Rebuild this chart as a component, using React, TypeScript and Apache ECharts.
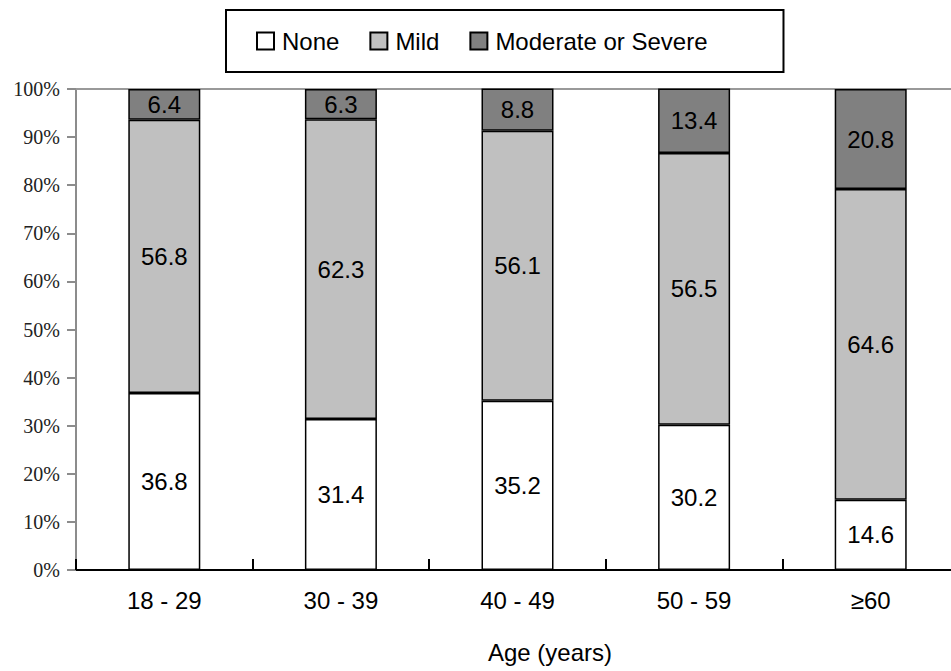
import React, { useEffect, useRef } from "react";
import * as echarts from "echarts";

const categories = ["18 - 29", "30 - 39", "40 - 49", "50 - 59", "≥60"];
const noneValues = [36.8, 31.4, 35.2, 30.2, 14.6];
const mildValues = [56.8, 62.3, 56.1, 56.5, 64.6];
const severeValues = [6.4, 6.3, 8.8, 13.4, 20.8];
const seriesNames = ["None", "Mild", "Moderate or Severe"];
const yTicks = [0, 10, 20, 30, 40, 50, 60, 70, 80, 90, 100];

export default function App() {
  const ref = useRef<HTMLDivElement>(null);
  useEffect(() => {
    if (!ref.current) return;
    const chart = echarts.init(ref.current, undefined, { renderer: "svg" });
    const label = {
      show: true,
      position: "inside",
      color: "#000",
      fontSize: 24,
      fontFamily: "Liberation Sans, Arial, sans-serif",
      formatter: (p: any) => p.value.toFixed(1),
    };
    const mk = (name: string, data: number[], color: string) => ({
      name,
      type: "bar",
      stack: "total",
      barWidth: 72,
      data,
      itemStyle: { color, borderColor: "#000", borderWidth: 1.5 },
      label,
    });
    chart.setOption({
      animation: false,
      backgroundColor: "#fff",
      legend: {
        left: 226,
        top: 10,
        padding: [19, 76, 19, 30],
        borderColor: "#000",
        borderWidth: 2,
        borderRadius: 0,
        itemWidth: 17,
        itemHeight: 17,
        itemGap: 30,
        icon: "rect",
        textStyle: {
          fontSize: 24,
          color: "#000",
          fontFamily: "Liberation Sans, Arial, sans-serif",
          padding: [0, 0, 0, 3],
        },
        data: seriesNames,
      },
      grid: { left: 76, right: 1, top: 89, bottom: 101 },
      xAxis: [
        {
          type: "category",
          data: categories,
          axisLine: { lineStyle: { color: "#000", width: 2 } },
          axisTick: { show: true, inside: true, length: 11, lineStyle: { color: "#000", width: 2 } },
          axisLabel: {
            fontSize: 24,
            color: "#000",
            margin: 18,
            fontFamily: "Liberation Sans, Arial, sans-serif",
          },
        },
        {
          type: "category",
          data: categories,
          position: "top",
          axisLine: { lineStyle: { color: "#999", width: 2 } },
          axisTick: { show: false },
          axisLabel: { show: false },
        },
      ],
      yAxis: {
        type: "value",
        min: 0,
        max: 100,
        interval: 10,
        axisLine: { show: true, lineStyle: { color: "#8c8c8c", width: 2 } },
        axisTick: { show: true, length: 9, lineStyle: { color: "#8c8c8c", width: 2 } },
        splitLine: { show: false },
        axisLabel: {
          fontSize: 20,
          color: "#222",
          margin: 16,
          fontFamily: "Liberation Serif, Times New Roman, serif",
          formatter: (v: number) => (yTicks.includes(v) ? v + "%" : ""),
        },
      },
      graphic: [
        {
          type: "text",
          left: 488,
          top: 640,
          style: {
            text: "Age (years)",
            fontSize: 24,
            fill: "#000",
            fontFamily: "Liberation Sans, Arial, sans-serif",
          },
        },
      ],
      series: [
        mk(seriesNames[0], noneValues, "#ffffff"),
        mk(seriesNames[1], mildValues, "#c0c0c0"),
        mk(seriesNames[2], severeValues, "#808080"),
      ],
    });
    return () => chart.dispose();
  }, []);
  return (
    <div style={{ position: "absolute", left: 0, top: 0, width: 951, height: 671, overflow: "hidden", background: "#fff" }}>
      <div ref={ref} style={{ width: 960, height: 671 }} />
    </div>
  );
}
